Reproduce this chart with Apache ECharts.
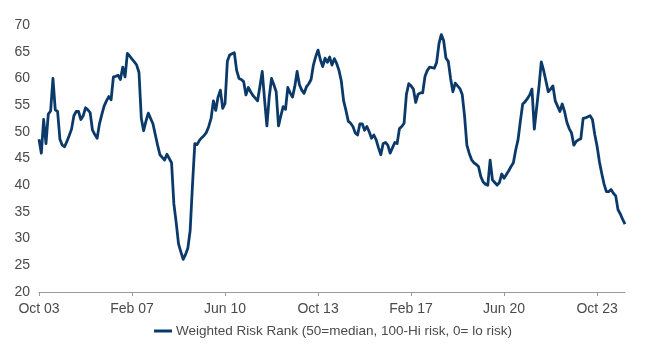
<!DOCTYPE html>
<html>
<head>
<meta charset="utf-8">
<script src="https://cdn.jsdelivr.net/npm/echarts@6/dist/echarts.min.js"></script>
<style>
  html, body { margin: 0; padding: 0; background: #fff; }
  #chart { width: 650px; height: 350px; }
</style>
</head>
<body>
<div id="chart"></div>
<script>
// Monthly series, Oct 2003 through Oct 2024
const seriesName = 'Weighted Risk Rank (50=median, 100-Hi risk, 0= lo risk)';
const startYear = 2003;
const startMonth = 9; // October (0-based)
const monthNames = ['Jan','Feb','Mar','Apr','May','Jun','Jul','Aug','Sep','Oct','Nov','Dec'];

const riskRank = [
  48.6, 46.0, 52.3, 47.8, 53.3, 53.9, 60.0, 54.1, 53.8, 48.6,
  47.5, 47.2, 48.2, 49.3, 50.5, 53.0, 53.8, 53.8, 52.3, 53.0,
  54.5, 54.1, 53.6, 50.3, 49.5, 48.8, 51.5, 53.2, 54.8, 55.8,
  56.6, 56.0, 60.3, 60.4, 60.6, 59.8, 62.1, 60.3, 64.7, 64.2,
  63.6, 63.1, 62.5, 61.1, 52.5, 50.2, 52.0, 53.5, 52.5, 51.5,
  49.5, 47.5, 45.7, 45.2, 44.7, 45.8, 45.0, 44.2, 36.5, 33.0,
  29.0, 27.5, 26.1, 27.0, 28.2, 31.5, 40.0, 47.8, 47.6, 48.4,
  48.9, 49.3, 49.9, 51.0, 52.5, 55.8, 54.0, 56.5, 57.8, 54.4,
  55.3, 63.2, 64.4, 64.6, 64.8, 61.5, 60.0, 59.8, 59.4, 56.9,
  58.3, 57.5, 56.8, 56.3, 55.8, 58.5, 61.3, 56.0, 51.1, 56.5,
  60.0, 58.8, 57.5, 51.1, 53.0, 54.7, 54.2, 58.3, 57.3, 56.5,
  58.5, 61.3, 58.8, 57.8, 57.2, 58.4, 59.0, 59.8, 62.5, 64.1,
  65.3, 63.5, 62.2, 63.8, 63.0, 64.0, 62.5, 63.7, 62.8, 61.5,
  59.5, 55.8, 54.0, 52.0, 51.6, 51.0, 49.8, 49.4, 51.5, 51.5,
  50.3, 51.0, 50.0, 48.8, 49.4, 48.5, 47.0, 45.7, 47.8, 48.0,
  47.5, 46.0, 47.0, 48.0, 47.8, 50.6, 51.0, 51.6, 57.0, 59.0,
  58.6, 58.0, 55.5, 57.0, 57.3, 57.3, 60.4, 61.5, 62.1, 62.0,
  61.9, 63.0, 66.5, 68.2, 67.1, 63.8, 63.2, 60.0, 57.5, 59.1,
  58.6, 58.1, 57.0, 53.0, 47.5, 46.0, 44.8, 44.2, 43.9, 43.5,
  41.6, 40.6, 40.2, 40.0, 44.7, 41.0, 40.5, 40.0, 40.5, 42.1,
  41.3, 42.0, 42.7, 43.5, 44.2, 46.6, 48.5, 52.0, 55.2, 55.6,
  56.2, 56.9, 58.0, 50.5, 54.5, 58.4, 63.1, 61.5, 59.5, 57.5,
  58.0, 58.6, 55.8, 54.8, 53.8, 55.2, 53.8, 51.8, 50.6, 49.8,
  47.5, 48.2, 48.5, 48.7, 52.5, 52.6, 52.8, 53.0, 52.3, 49.5,
  47.3, 44.4, 42.2, 40.2, 38.8, 38.8, 39.2, 38.5, 38.0, 35.4,
  34.6, 33.6, 32.7
];

// Month labels such as "Oct 03"
const months = riskRank.map((_, i) => {
  const m = (startMonth + i) % 12;
  const y = startYear + Math.floor((startMonth + i) / 12);
  return monthNames[m] + ' ' + String(y % 100).padStart(2, '0');
});

const labelStep = 40; // one label every 40 months
const yTicks = { min: 20, max: 70, interval: 5 };

const font = 'Liberation Sans, Arial, sans-serif';
const textColor = '#4a4a4a';
const chart = echarts.init(document.getElementById('chart'), null, { renderer: 'canvas' });

chart.setOption({
  animation: false,
  backgroundColor: '#ffffff',
  grid: { left: 39, right: 25, top: 25, bottom: 58, containLabel: false },
  legend: {
    data: [seriesName],
    bottom: 7,
    left: 149,
    icon: 'rect',
    itemWidth: 18,
    itemHeight: 3,
    itemGap: 4,
    textStyle: { color: textColor, fontSize: 13.5, fontFamily: font, padding: [0, 0, 0, -1] }
  },
  xAxis: {
    type: 'category',
    data: months,
    boundaryGap: false,
    axisLine: { lineStyle: { color: '#9a9a9a', width: 1 } },
    axisTick: {
      show: true,
      interval: (i) => i % labelStep === 0,
      length: 4,
      lineStyle: { color: '#9a9a9a' }
    },
    axisLabel: {
      interval: (i) => i % labelStep === 0,
      color: textColor,
      fontSize: 14,
      fontFamily: font,
      margin: 10
    },
    splitLine: { show: false }
  },
  yAxis: {
    type: 'value',
    min: yTicks.min,
    max: yTicks.max,
    interval: yTicks.interval,
    axisLine: { show: false },
    axisTick: { show: false },
    splitLine: { show: false },
    axisLabel: { color: textColor, fontSize: 14, fontFamily: font, margin: 9 }
  },
  series: [{
    name: seriesName,
    type: 'line',
    data: riskRank,
    showSymbol: false,
    symbol: 'none',
    lineStyle: { color: '#0b3a6a', width: 2.8, join: 'round' },
    itemStyle: { color: '#0b3a6a' }
  }]
});
</script>
</body>
</html>
